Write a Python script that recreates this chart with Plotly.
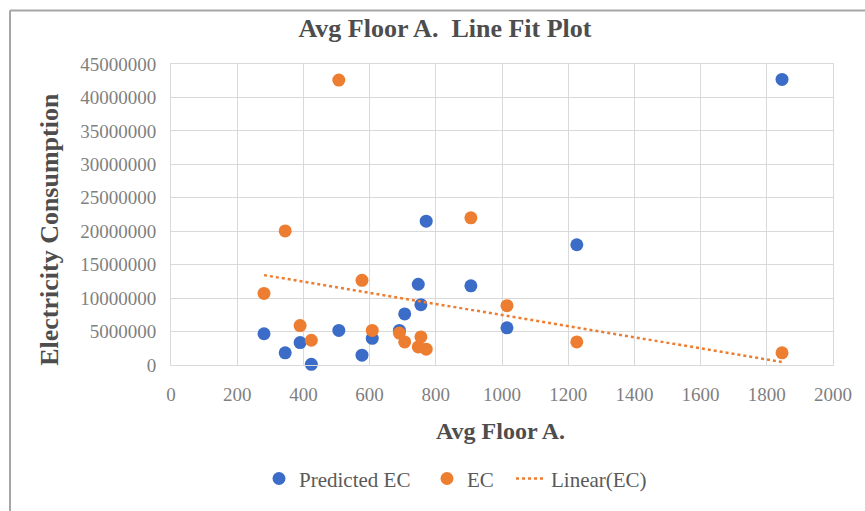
import numpy as np
import plotly.graph_objects as go

# ---- data ----
avg_floor_area = [281, 345, 390, 424, 507, 577, 608, 690, 706, 747, 755, 771, 906, 1015, 1226, 1846]
ec_actual = [10700000, 20050000, 5900000, 3700000, 42600000, 12660000, 5170000, 4780000,
             3450000, 2700000, 4190000, 2360000, 22000000, 8870000, 3450000, 1820000]
ec_predicted = [4670000, 1820000, 3350000, 100000, 5170000, 1470000, 3990000, 5170000,
                7640000, 12070000, 9020000, 21500000, 11830000, 5560000, 17980000, 42700000]
x_ticks = [0, 200, 400, 600, 800, 1000, 1200, 1400, 1600, 1800, 2000]
y_ticks = [0, 5000000, 10000000, 15000000, 20000000, 25000000, 30000000, 35000000, 40000000, 45000000]

BLUE = "#3a6cc8"
ORANGE = "#ed7d31"
FONT = "Liberation Serif, Times New Roman, serif"

# linear trendline of EC (least squares), drawn over the data range
slope, intercept = np.polyfit(avg_floor_area, ec_actual, 1)
trend_x = [min(avg_floor_area), max(avg_floor_area)]
trend_y = [slope * v + intercept for v in trend_x]

W, H = 865, 511
L, R, T, B = 171, 32, 64, 143
pw, ph = W - L - R, H - T - B


def px2x(px):
    return (px - L) / pw


def py2y(py):
    return (H - B - py) / ph


fig = go.Figure()
fig.add_trace(go.Scatter(x=avg_floor_area, y=ec_predicted, mode="markers", name="Predicted EC",
                         marker=dict(color=BLUE, size=13), cliponaxis=False, legend="legend"))
fig.add_trace(go.Scatter(x=avg_floor_area, y=ec_actual, mode="markers", name="EC",
                         marker=dict(color=ORANGE, size=13), cliponaxis=False, legend="legend2"))
fig.add_trace(go.Scatter(x=trend_x, y=trend_y, mode="lines", name="Linear(EC)",
                         line=dict(color=ORANGE, width=2.5, dash="dot"), legend="legend3"))

legend_common = dict(orientation="h", yanchor="middle", y=py2y(483), xanchor="left",
                     font=dict(family=FONT, size=21, color="#595959"),
                     bgcolor="rgba(0,0,0,0)")
fig.update_layout(
    width=W, height=H,
    margin=dict(l=L, r=R, t=T, b=B),
    paper_bgcolor="white", plot_bgcolor="white",
    title=dict(text="<b>Avg Floor A.&nbsp; Line Fit Plot</b>", xref="container", yref="container",
               x=445 / W, y=1 - 27.5 / H, xanchor="center", yanchor="middle",
               font=dict(family=FONT, size=26, color="#4d4d4d")),
    xaxis=dict(range=[0, 2000], tickvals=x_ticks, showgrid=True, gridcolor="#d9d9d9", gridwidth=1,
               showline=True, linecolor="#d9d9d9", mirror=True, zeroline=False,
               tickfont=dict(family=FONT, size=19, color="#7f7f7f"), ticklabelstandoff=12),
    yaxis=dict(range=[0, 45000000], tickvals=y_ticks, tickformat="d", showgrid=True,
               gridcolor="#d9d9d9", gridwidth=1, showline=True, linecolor="#d9d9d9", mirror=True,
               zeroline=False, tickfont=dict(family=FONT, size=19, color="#7f7f7f"),
               ticklabelstandoff=10),
    legend=dict(legend_common, x=px2x(259)),
    legend2=dict(legend_common, x=px2x(427)),
    legend3=dict(legend_common, x=px2x(511)),
    showlegend=True,
)

fig.add_annotation(text="<b>Electricity Consumption</b>", xref="paper", yref="paper",
                   x=px2x(49.5), y=py2y(231), textangle=-90, showarrow=False,
                   xanchor="center", yanchor="middle",
                   font=dict(family=FONT, size=26, color="#4d4d4d"))
fig.add_annotation(text="<b>Avg Floor A.</b>", xref="paper", yref="paper",
                   x=px2x(500), y=py2y(435), showarrow=False, xanchor="center", yanchor="middle",
                   font=dict(family=FONT, size=24, color="#4d4d4d"))

# outer chart-area border (left and top edges visible)
fig.add_shape(type="line", xref="paper", yref="paper", x0=px2x(10), x1=px2x(10),
              y0=py2y(10), y1=py2y(H + 5), line=dict(color="#a6a6a6", width=2))
fig.add_shape(type="line", xref="paper", yref="paper", x0=px2x(10), x1=px2x(W + 5),
              y0=py2y(10), y1=py2y(10), line=dict(color="#a6a6a6", width=2))

fig.write_html("out.html")
